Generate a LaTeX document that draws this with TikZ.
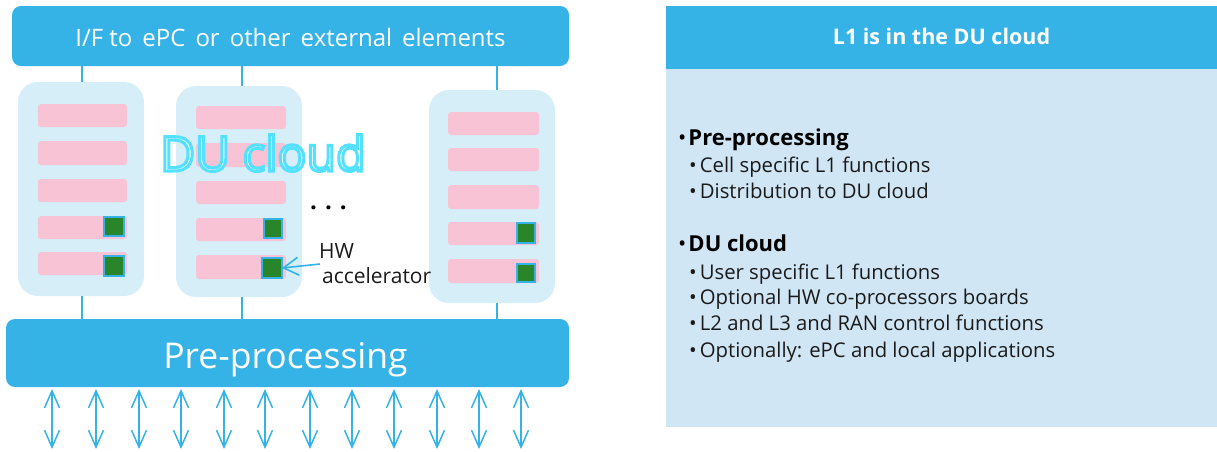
\documentclass[tikz,border=0pt]{standalone}
\usepackage{fontspec}
\setmainfont{Open Sans}
\usetikzlibrary{arrows.meta}
\definecolor{barblue}{HTML}{36B3E6}
\definecolor{bladeblue}{HTML}{D5EEF8}
\definecolor{panelblue}{HTML}{D0E6F5}
\definecolor{pinkbar}{HTML}{F8C3D5}
\definecolor{chipgreen}{HTML}{298529}
\definecolor{inktext}{HTML}{1A1A1A}
\tikzset{
  bar/.style={fill=barblue,rounded corners=9pt,text=white},
  blade/.style={fill=bladeblue,rounded corners=20pt},
  slot/.style={fill=pinkbar,rounded corners=3pt},
  chip/.style={fill=chipgreen,draw=barblue,line width=1.2pt},
  panelhead/.style={fill=barblue,text=white},
  panelbody/.style={fill=panelblue},
  link/.style={draw=barblue,line width=1.4pt},
  iol/.style={draw=barblue,line width=1.5pt,{Straight Barb[length=17pt,width=15pt]}-{Straight Barb[length=17pt,width=15pt]}},
  callout/.style={draw=barblue,line width=1.6pt,-{Straight Barb[length=15pt,width=18pt]}},
  listline/.style={anchor=base west,inner sep=0pt,font=\fontsize{20.3}{24}\selectfont,text=inktext},
  listhead/.style={anchor=base west,inner sep=0pt,font=\fontsize{22}{26}\selectfont,text=black},
}
\newcommand{\bx}[7][]{%
  \pgfmathsetmacro{\bw}{#6-#4}\pgfmathsetmacro{\bh}{#7-#5}%
  \pgfmathsetmacro{\bcx}{(#4+#6)/2}\pgfmathsetmacro{\bcy}{(#5+#7)/2}%
  \node[#3,inner sep=0pt,outer sep=0pt,minimum width=\bw pt,minimum height=\bh pt] (#2) at (\bcx,\bcy) {#1};}
\begin{document}
\begin{tikzpicture}[x=1pt,y=-1pt]
\useasboundingbox (0,0) rectangle (1217,451);
% bars
\bx[{\raisebox{-10pt}[0pt][0pt]{\fontsize{24}{28}\selectfont I/F to\hspace{10pt}ePC\hspace{10pt}or\hspace{10pt}other\hspace{10pt}external\hspace{10pt}elements}}]{top}{bar}{12}{6}{569}{66}
\bx[{\hspace{-4pt}\raisebox{-15pt}[0pt][0pt]{\fontsize{35.5}{42}\selectfont Pre-processing}}]{pre}{bar}{6}{319}{569}{387}
% blades
\bx{b1}{blade}{18}{82}{144}{296}
\bx{b2}{blade}{176}{86}{302}{297}
\bx{b3}{blade}{429}{90}{555}{303}
% links
\draw[link] ([xshift=1pt]b1.north) -- ([xshift=1pt]b1.north |- top.south);
\draw[link] ([xshift=3pt]b2.north) -- ([xshift=3pt]b2.north |- top.south);
\draw[link] ([xshift=5pt]b3.north) -- ([xshift=5pt]b3.north |- top.south);
\draw[link] ([xshift=1pt]b1.south) -- ([xshift=1pt]b1.south |- pre.north);
\draw[link] ([xshift=3pt]b2.south) -- ([xshift=3pt]b2.south |- pre.north);
\draw[link] ([xshift=5pt]b3.south) -- ([xshift=5pt]b3.south |- pre.north);
% slots
\bx{s11}{slot}{38}{104}{127}{127}
\bx{s12}{slot}{38}{141}{127}{165}
\bx{s13}{slot}{38}{179}{127}{202}
\bx{s14}{slot}{38}{216}{127}{239}
\bx{s15}{slot}{38}{252}{127}{275}
\bx{s21}{slot}{196}{106}{286}{129}
\bx{s22}{slot}{196}{143}{286}{167}
\bx{s23}{slot}{196}{181}{286}{204}
\bx{s24}{slot}{196}{218}{286}{241}
\bx{s25}{slot}{196}{255}{286}{279}
\bx{s31}{slot}{448}{112}{539}{135}
\bx{s32}{slot}{448}{148}{539}{171}
\bx{s33}{slot}{448}{185}{539}{209}
\bx{s34}{slot}{448}{222}{539}{245}
\bx{s35}{slot}{448}{259}{539}{283}
% chips
\bx{c14}{chip}{104}{217}{124}{236}
\bx{c15}{chip}{104}{256}{124}{276}
\bx{c24}{chip}{264}{219}{282}{238}
\bx{c25}{chip}{262}{258}{282}{278}
\bx{c34}{chip}{517}{223}{535}{243}
\bx{c35}{chip}{517}{264}{535}{282}
% DU cloud title
\node[inner sep=0pt,anchor=base west,text=white,font=\fontsize{48}{54}\selectfont] (du) at (160,171)
  {\special{pdf:code 2 Tr 3 w 0.33 0.88 1 RG}DU cloud\special{pdf:code 0 Tr}};
% dots
\node[inner sep=0pt,anchor=base west,font=\bfseries\fontsize{24}{26}\selectfont,text=black] (dots) at (310,209) {.\hspace{8pt}.\hspace{8pt}.};
% HW accelerator label
\node[inner sep=0pt,anchor=base west,font=\fontsize{21}{24}\selectfont,text=inktext] (hwa) at (319,258) {HW};
\node[inner sep=0pt,anchor=base west,font=\fontsize{21}{24}\selectfont,text=inktext] (hwb) at (322,283) {accelerator};
\coordinate (hwtail) at (320,264);
\draw[callout] (hwtail) -- (c25.east);
% IO arrows
\foreach \i/\ax in {1/52,2/96,3/139,4/181,5/224,6/265,7/310,8/352,9/394,10/437,11/479,12/521}{
  \coordinate (iotop\i) at (\ax,389);
  \coordinate (iobot\i) at (\ax,449);
  \draw[iol] (iotop\i) -- (iobot\i);
}
% right panel
\bx{body}{panelbody}{666}{69}{1217}{427}
\bx[{\raisebox{-7pt}[0pt][0pt]{\bfseries\fontsize{21.5}{25}\selectfont L1 is in the DU cloud}}]{head}{panelhead}{666}{6}{1217}{69}
\node[listhead] (l1) at (678,145) {•\hspace{2pt}\bfseries Pre-processing};
\node[listline] (l2) at (689,172) {•\hspace{3pt}Cell specific L1 functions};
\node[listline] (l3) at (689,198) {•\hspace{3pt}Distribution to DU cloud};
\node[listhead] (l4) at (678,251) {•\hspace{2pt}\bfseries DU cloud};
\node[listline] (l5) at (689,279) {•\hspace{3pt}User specific L1 functions};
\node[listline] (l6) at (689,304) {•\hspace{3pt}Optional HW co-processors boards};
\node[listline] (l7) at (689,330) {•\hspace{3pt}L2 and L3 and RAN control functions};
\node[listline] (l8) at (689,357) {•\hspace{3pt}Optionally: ePC and local applications};
\end{tikzpicture}
\end{document}
